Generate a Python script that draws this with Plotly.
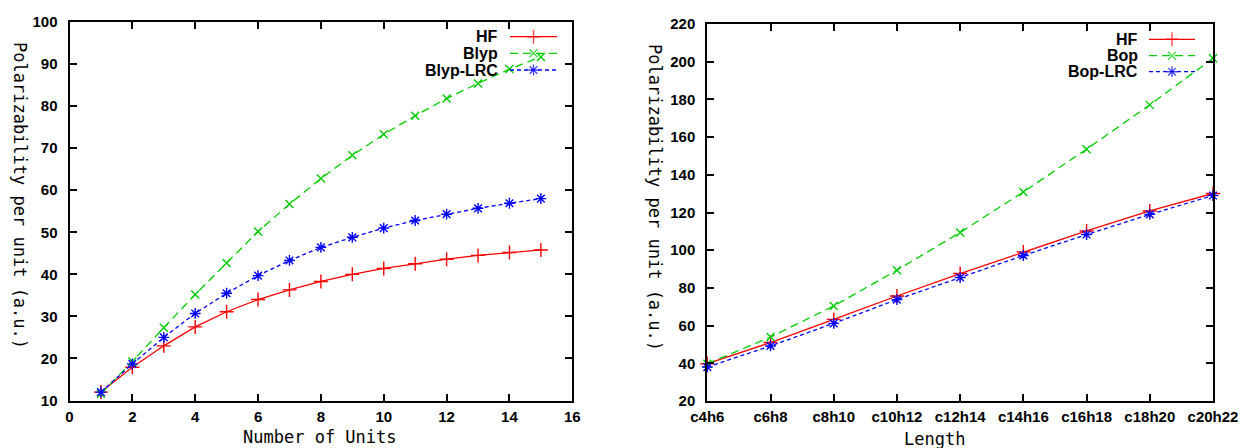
import plotly.graph_objects as go

# ---------------- data ----------------
units = list(range(1, 16))
hf_units = [12.0, 17.9, 23.0, 27.5, 31.1, 34.0, 36.3, 38.3, 40.0, 41.4, 42.5, 43.6, 44.5, 45.2, 45.8]
blyp_units = [11.6, 19.3, 27.3, 35.2, 42.7, 50.2, 56.7, 62.8, 68.3, 73.3, 77.7, 81.8, 85.4, 88.8, 91.7]
blyplrc_units = [12.0, 18.7, 25.0, 30.7, 35.5, 39.7, 43.3, 46.4, 48.8, 51.0, 52.8, 54.3, 55.7, 56.9, 58.0]

lengths = ["c4h6", "c6h8", "c8h10", "c10h12", "c12h14", "c14h16", "c16h18", "c18h20", "c20h22"]
hf_len = [39.8, 51.0, 63.3, 75.7, 87.6, 99.1, 110.2, 120.8, 130.1]
bop_len = [39.8, 53.9, 70.4, 89.4, 109.4, 130.9, 153.6, 177.1, 201.8]
boplrc_len = [38.0, 49.2, 61.2, 73.8, 85.5, 97.2, 108.3, 119.0, 129.0]

left_names = ["HF", "Blyp", "Blyp-LRC"]
right_names = ["HF", "Bop", "Bop-LRC"]

# ---------------- styles ----------------
W, H = 1244, 448
RED, GREEN, BLUE = "#ff0000", "#00cc00", "#0000ff"
styles = [
    dict(color=RED, dash="solid", symbol="cross-thin", size=10),
    dict(color=GREEN, dash="8px,5px", symbol="x-thin", size=8),
    dict(color=BLUE, dash="4px,3px", symbol="asterisk", size=9),
]
LW = 1.3

fig = go.Figure()


def add_series(x, y, st, xa, ya):
    fig.add_trace(go.Scatter(
        x=x, y=y, mode="lines+markers", xaxis=xa, yaxis=ya, showlegend=False,
        cliponaxis=False,
        line=dict(color=st["color"], width=LW, dash=st["dash"]),
        marker=dict(symbol=st["symbol"], size=st["size"], color=st["color"],
                    line=dict(color=st["color"], width=1.4)),
    ))


for ys, st in zip([hf_units, blyp_units, blyplrc_units], styles):
    add_series(units, ys, st, "x", "y")
for ys, st in zip([hf_len, bop_len, boplrc_len], styles):
    add_series(lengths, ys, st, "x2", "y2")

# ---------------- custom legends (gnuplot style: text then key) ----------------
legend_specs = [
    (left_names, 500, 510, 557, [36.7, 53.3, 70.0]),
    (right_names, 1140, 1149, 1195, [39.3, 55.7, 71.7]),
]
annotations = []
for names, tx, lx0, lx1, rows in legend_specs:
    for name, ry, st in zip(names, rows, styles):
        annotations.append(dict(
            text=name, xref="paper", yref="paper", x=tx / W, y=(H - ry) / H,
            xanchor="right", yanchor="middle", showarrow=False,
            font=dict(family="Liberation Sans", size=16, color="black", weight="bold"),
        ))
        fig.add_trace(go.Scatter(
            x=[lx0, (lx0 + lx1) / 2, lx1], y=[ry, ry, ry], mode="lines+markers",
            xaxis="x3", yaxis="y3", showlegend=False, hoverinfo="skip", cliponaxis=False,
            line=dict(color=st["color"], width=LW, dash=st["dash"]),
            marker=dict(symbol=st["symbol"], size=[0, st["size"], 0], color=st["color"],
                        line=dict(color=st["color"], width=1.4)),
        ))

title_font = dict(family="DejaVu Sans Mono", size=17, color="black")
annotations += [
    dict(text="Number of Units", xref="paper", yref="paper", x=320 / W, y=(H - 436.5) / H,
         xanchor="center", yanchor="middle", showarrow=False, font=title_font),
    dict(text="Length", xref="paper", yref="paper", x=934 / W, y=(H - 439) / H,
         xanchor="center", yanchor="middle", showarrow=False, font=title_font),
    dict(text="Polarizability per unit (a.u.)", xref="paper", yref="paper", x=20 / W, y=(H - 195) / H,
         xanchor="center", yanchor="middle", showarrow=False, textangle=90, font=title_font),
    dict(text="Polarizability per unit (a.u.)", xref="paper", yref="paper", x=655 / W, y=(H - 197) / H,
         xanchor="center", yanchor="middle", showarrow=False, textangle=90, font=title_font),
]

tick_font = dict(family="Liberation Sans", size=15, color="black", weight="bold")
common = dict(showgrid=False, zeroline=False, showline=True, linecolor="black", linewidth=2,
              mirror="allticks", ticks="inside", ticklen=7, tickwidth=1.5, tickcolor="black",
              tickfont=tick_font, automargin=False)

fig.update_layout(
    width=W, height=H, margin=dict(l=0, r=0, t=0, b=0, autoexpand=False),
    paper_bgcolor="white", plot_bgcolor="rgba(0,0,0,0)", showlegend=False,
    xaxis=dict(domain=[69.5 / W, 572.3 / W], range=[0, 16], tickvals=list(range(0, 17, 2)),
               anchor="y", ticklabelstandoff=1, **common),
    yaxis=dict(domain=[(H - 400.5) / H, (H - 22) / H], range=[10, 100], tickvals=list(range(10, 101, 10)),
               anchor="x", ticklabelstandoff=7, **common),
    xaxis2=dict(domain=[707.3 / W, 1213 / W], type="category", range=[0, 8], categoryarray=lengths,
                categoryorder="array", anchor="y2", ticklabelstandoff=1, **common),
    yaxis2=dict(domain=[(H - 401) / H, (H - 24) / H], range=[20, 220], tickvals=list(range(20, 221, 20)),
                anchor="x2", ticklabelstandoff=7, **common),
    xaxis3=dict(domain=[0, 1], range=[0, W], visible=False, anchor="y3", fixedrange=True),
    yaxis3=dict(domain=[0, 1], range=[H, 0], visible=False, anchor="x3", fixedrange=True),
    annotations=annotations,
)

fig.write_html(
    "out.html",
    config={"displayModeBar": False},
    post_script="document.body.style.margin='0';document.body.style.overflow='hidden';",
)
